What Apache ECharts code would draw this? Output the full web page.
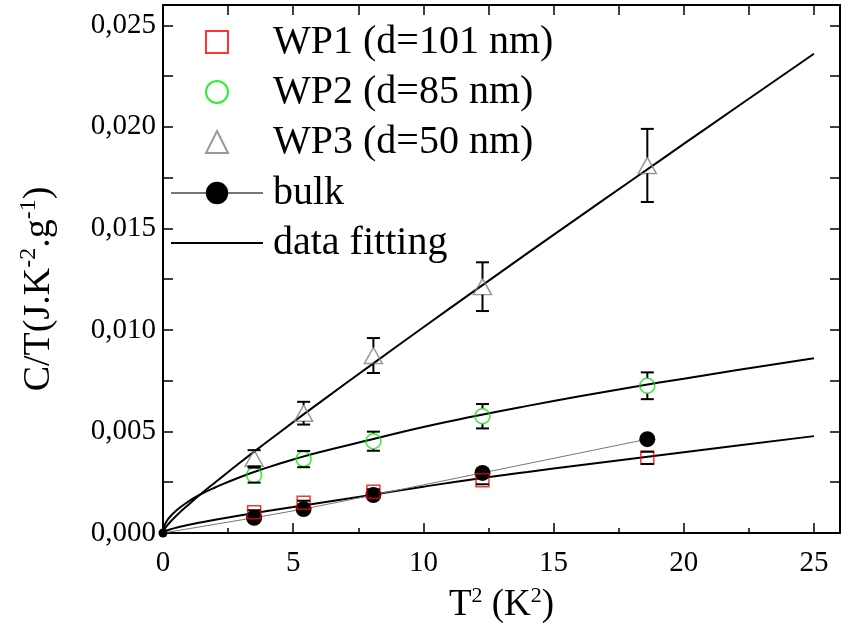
<!DOCTYPE html>
<html>
  <head>
    <meta charset="utf-8" />
    <title>C/T vs T2</title>
    <script src="https://cdn.jsdelivr.net/npm/echarts@6.0.0/dist/echarts.min.js"></script>
  </head>
  <body style="margin:0">
    <div id="chartContainer" style="width: 843px;height:643px;"></div>
    <script>
        // measured points (T^2 in K^2)
        var ptX = [3.5, 5.4, 8.08, 12.27, 18.6];
        var wp1Y = [0.00102, 0.00149, 0.00203, 0.0026, 0.0037];
        var wp2Y = [0.00285, 0.00364, 0.00452, 0.00575, 0.00725];
        var wp3Y = [0.00368, 0.0059, 0.00874, 0.01213, 0.0181];
        var wp1Err = [0.0001, 0.0001, 0.00012, 0.0002, 0.0003];
        var wp2Err = [0.00037, 0.0004, 0.00047, 0.0006, 0.00066];
        var wp3Err = [0.0004, 0.00056, 0.00086, 0.0012, 0.0018];

        var bulkX = [0, 3.5, 5.4, 8.08, 12.27, 18.6];
        var bulkY = [0, 0.00075, 0.00118, 0.00187, 0.00296, 0.00462];

        // fitted curves
        var fitX = [0, 0.05, 0.2, 0.5, 1, 1.5, 2, 3, 4, 5, 6, 8, 10, 12, 14, 16, 18, 20, 22, 25];
        var fit1Y = [0, 0.000067, 0.000147, 0.000258, 0.000404, 0.000533, 0.000653, 0.000874, 0.00108, 0.00128, 0.00148, 0.00187, 0.00228, 0.00266, 0.003, 0.00334, 0.00366, 0.00398, 0.0043, 0.00477];
        var fit2Y = [0, 0.000345, 0.000694, 0.0011, 0.00157, 0.00194, 0.00224, 0.00277, 0.00322, 0.00362, 0.00398, 0.0046, 0.00522, 0.00576, 0.00626, 0.00673, 0.00718, 0.0076, 0.00801, 0.0086];
        var fit3Y = [0, 0.000174, 0.000431, 0.000833, 0.00142, 0.00197, 0.00249, 0.00351, 0.00449, 0.00546, 0.00641, 0.00828, 0.01013, 0.01196, 0.01378, 0.01558, 0.01737, 0.01916, 0.02094, 0.0236];

        var xTicks = [0, 5, 10, 15, 20, 25];
        var yTicks = [0, 0.005, 0.01, 0.015, 0.02, 0.025];

        var font = '"Liberation Serif", "Times New Roman", serif';
        var myChart = echarts.init(document.getElementById('chartContainer'));

        function pairs(xs, ys) {
          return xs.map(function (x, i) { return [x, ys[i]]; });
        }
        function triples(xs, ys, es) {
          return xs.map(function (x, i) { return [x, ys[i], es[i]]; });
        }

        // error bar drawn with a gap around the marker
        function errorBar(params, api) {
          var x = api.value(0), y = api.value(1), e = api.value(2);
          var c = api.coord([x, y]);
          var top = api.coord([x, y + e]);
          var bot = api.coord([x, y - e]);
          var w = 6.5, gap = 8;
          var st = { stroke: '#000', lineWidth: 2 };
          var kids = [
            { type: 'line', shape: { x1: top[0] - w, y1: top[1], x2: top[0] + w, y2: top[1] }, style: st },
            { type: 'line', shape: { x1: bot[0] - w, y1: bot[1], x2: bot[0] + w, y2: bot[1] }, style: st }
          ];
          if (c[1] - top[1] > gap) {
            kids.push({ type: 'line', shape: { x1: c[0], y1: top[1], x2: c[0], y2: c[1] - gap }, style: st });
            kids.push({ type: 'line', shape: { x1: c[0], y1: c[1] + gap, x2: c[0], y2: bot[1] }, style: st });
          }
          return { type: 'group', children: kids };
        }

        function onTick(v, step) {
          return Math.abs(v / step - Math.round(v / step)) < 1e-6;
        }

        var fitLine = { color: '#000', width: 2 };

        function legendStyle(padLeft) {
          return {
            fontFamily: font, fontSize: 40, color: '#000',
            rich: { t: { fontFamily: font, fontSize: 40, color: '#000', padding: [0, 0, 0, padLeft] } }
          };
        }
        function legendName(name) { return '{t|' + name + '}'; }

        var option = {
          animation: false,
          textStyle: { fontFamily: font },
          grid: { left: 163, right: 3, top: 5, bottom: 110 },
          legend: [
            {
              orient: 'vertical', left: 205, top: 22, padding: 0,
              itemWidth: 22, itemHeight: 22, itemGap: 10,
              selectedMode: false,
              formatter: legendName,
              textStyle: legendStyle(40),
              data: ['WP1 (d=101 nm)', 'WP2 (d=85 nm)', 'WP3 (d=50 nm)']
            },
            {
              orient: 'vertical', left: 170, top: 173, padding: 0,
              itemWidth: 92, itemHeight: 28, itemGap: 10,
              selectedMode: false,
              formatter: legendName,
              textStyle: legendStyle(5),
              data: ['bulk', { name: 'data fitting', itemStyle: { opacity: 0 } }]
            }
          ],
          xAxis: [
            {
              type: 'value', min: 0, max: 26, interval: 5,
              name: '{b|T}{s|2}{b| (K}{s|2}{b|)}',
              nameLocation: 'middle', nameGap: 52,
              nameTextStyle: {
                rich: {
                  b: { fontFamily: font, fontSize: 37, color: '#000', lineHeight: 40 },
                  s: { fontFamily: font, fontSize: 22, color: '#000', verticalAlign: 'top', lineHeight: 40 }
                }
              },
              axisLine: { onZero: false, lineStyle: { color: '#000', width: 2 } },
              axisTick: { inside: true, length: 10, lineStyle: { color: '#000', width: 1.5 } },
              minorTick: { show: true, splitNumber: 2, length: 5, lineStyle: { color: '#000', width: 1.5 } },
              splitLine: { show: false },
              axisLabel: {
                fontFamily: font, fontSize: 29, color: '#000', margin: 16,
                formatter: function (v) { return xTicks.indexOf(v) >= 0 ? String(v) : ''; }
              }
            },
            {
              type: 'value', position: 'top', min: 0, max: 26, interval: 5,
              axisLine: { onZero: false, lineStyle: { color: '#000', width: 2 } },
              axisTick: { inside: true, length: 10, lineStyle: { color: '#000', width: 1.5 } },
              minorTick: { show: true, splitNumber: 2, length: 10, lineStyle: { color: '#000', width: 1.5 } },
              splitLine: { show: false },
              axisLabel: { show: false }
            }
          ],
          yAxis: [
            {
              type: 'value', min: 0, max: 0.026, interval: 0.005,
              name: '{b|C/T(J.K}{s|-2}{b|.g}{s|-1}{b|)}',
              nameLocation: 'middle', nameRotate: 90, nameGap: 102,
              nameTextStyle: {
                padding: [0, 40, 0, 0],
                rich: {
                  b: { fontFamily: font, fontSize: 38, color: '#000', lineHeight: 44 },
                  s: { fontFamily: font, fontSize: 24, color: '#000', verticalAlign: 'top', lineHeight: 44 }
                }
              },
              axisLine: { onZero: false, lineStyle: { color: '#000', width: 2 } },
              axisTick: { inside: true, length: 10, lineStyle: { color: '#000', width: 1.5 } },
              minorTick: { show: true, splitNumber: 2, length: 10, lineStyle: { color: '#000', width: 1.5 } },
              splitLine: { show: false },
              axisLabel: {
                fontFamily: font, fontSize: 29, color: '#000', margin: 7,
                formatter: function (v) {
                  return onTick(v, 0.005) ? v.toFixed(3).replace('.', ',') : '';
                }
              }
            },
            {
              type: 'value', position: 'right', min: 0, max: 0.026, interval: 0.005,
              axisLine: { onZero: false, lineStyle: { color: '#000', width: 2 } },
              axisTick: { inside: true, length: 10, lineStyle: { color: '#000', width: 1.5 } },
              minorTick: { show: true, splitNumber: 2, length: 10, lineStyle: { color: '#000', width: 1.5 } },
              splitLine: { show: false },
              axisLabel: { show: false }
            }
          ],
          series: [
            { name: 'data fitting', type: 'line', data: pairs(fitX, fit1Y), showSymbol: false, symbol: 'none', smooth: true, lineStyle: fitLine, z: 3 },
            { name: 'data fitting', type: 'line', data: pairs(fitX, fit2Y), showSymbol: false, symbol: 'none', smooth: true, lineStyle: fitLine, z: 3 },
            { name: 'data fitting', type: 'line', data: pairs(fitX, fit3Y), showSymbol: false, symbol: 'none', smooth: true, lineStyle: fitLine, z: 3 },
            {
              name: 'bulk', type: 'line',
              data: pairs(bulkX, bulkY).map(function (p, i) {
                return i === 0 ? { value: p, symbolSize: 9 } : p;
              }),
              symbol: 'circle', symbolSize: 16, showAllSymbol: true,
              itemStyle: { color: '#000' },
              lineStyle: { color: '#777', width: 1 },
              z: 4
            },
            {
              name: 'WP1 (d=101 nm)', type: 'scatter', data: pairs(ptX, wp1Y),
              symbol: 'rect', symbolSize: 13,
              itemStyle: { color: 'rgba(0,0,0,0)', borderColor: '#ff0000', borderWidth: 1.5 },
              z: 5
            },
            {
              name: 'WP2 (d=85 nm)', type: 'scatter', data: pairs(ptX, wp2Y),
              symbol: 'circle', symbolSize: 15,
              itemStyle: { color: 'rgba(0,0,0,0)', borderColor: '#00e600', borderWidth: 1.5 },
              z: 5
            },
            {
              name: 'WP3 (d=50 nm)', type: 'scatter', data: pairs(ptX, wp3Y),
              symbol: 'triangle', symbolSize: [18, 16],
              itemStyle: { color: 'rgba(0,0,0,0)', borderColor: '#808080', borderWidth: 1.5 },
              z: 5
            },
            { name: 'err1', type: 'custom', renderItem: errorBar, data: triples(ptX, wp1Y, wp1Err), encode: { x: 0, y: 1 }, z: 6 },
            { name: 'err2', type: 'custom', renderItem: errorBar, data: triples(ptX, wp2Y, wp2Err), encode: { x: 0, y: 1 }, z: 6 },
            { name: 'err3', type: 'custom', renderItem: errorBar, data: triples(ptX, wp3Y, wp3Err), encode: { x: 0, y: 1 }, z: 6 }
          ]
        };

        myChart.setOption(option);
    </script>
  </body>
</html>
